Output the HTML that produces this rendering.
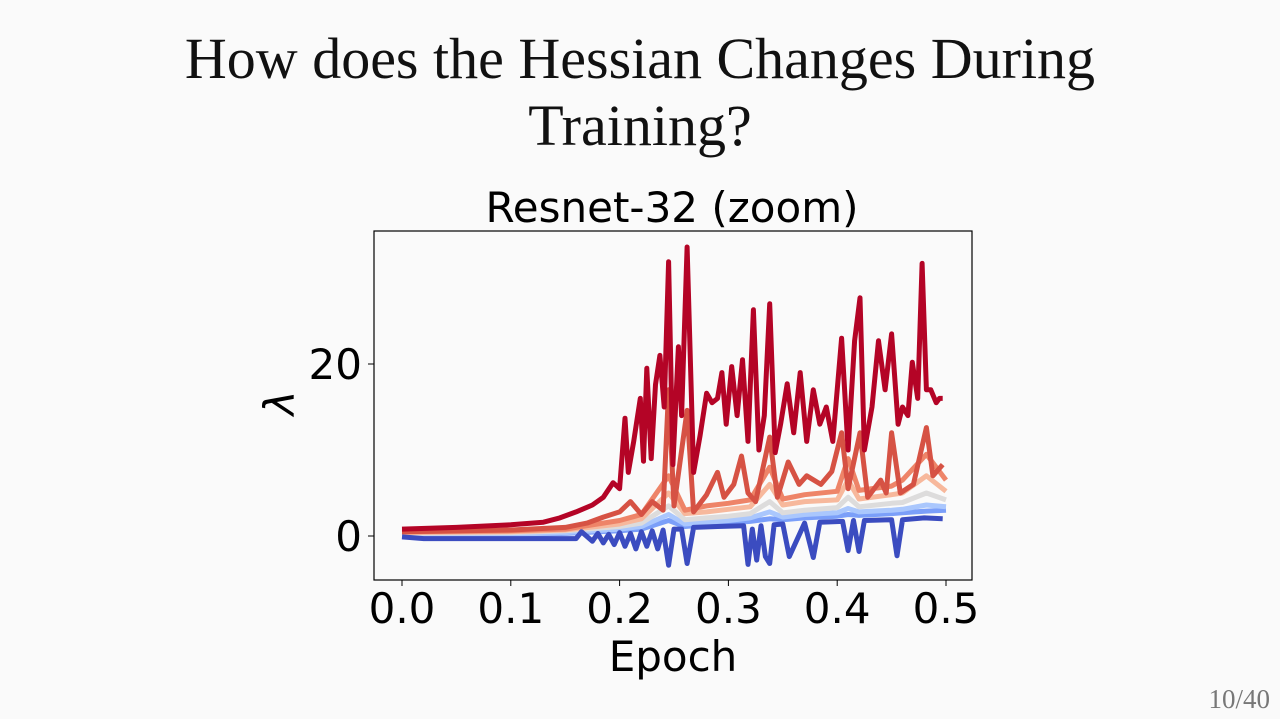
<!DOCTYPE html>
<html><head><meta charset="utf-8"><style>
body{margin:0;background:#fafafa;width:1280px;height:719px;overflow:hidden;position:relative;font-family:"Liberation Serif",serif}
.t{position:absolute;left:0;width:1280px;text-align:center;font-size:58px;color:#111;font-family:"Liberation Serif",serif}
</style></head><body>
<div class="t" style="top:25px;line-height:67px">How does the Hessian Changes During<br>Training?</div>
<div style="position:absolute;right:10px;top:684px;font-size:27px;color:#777">10/40</div>
<svg id="c" width="1280" height="719" style="position:absolute;left:0;top:0">
<text x="672" y="222" text-anchor="middle" font-family="DejaVu Sans,sans-serif" font-size="42">Resnet-32 (zoom)</text>
<text x="673" y="671" text-anchor="middle" font-family="DejaVu Sans,sans-serif" font-size="42">Epoch</text>
<text transform="translate(294,403) rotate(-90)" text-anchor="middle" font-family="DejaVu Sans,sans-serif" font-size="42" font-style="italic">λ</text>
<g id="marks"></g>
<rect x="374" y="231" width="598" height="349" fill="none" stroke="#000" stroke-width="1.2"/>
<g id="ticks"></g>
</svg>
<script>
const xTicks=[0,0.1,0.2,0.3,0.4,0.5];
const xTickLabels=["0.0","0.1","0.2","0.3","0.4","0.5"];
const yTicks=[0,20];
const yTickLabels=["0","20"];
const topX=[0,0.05,0.1,0.13,0.145,0.16,0.175,0.185,0.194,0.2,0.205,0.208,0.213,0.219,0.222,0.225,0.229,0.233,0.237,0.241,0.245,0.249,0.254,0.257,0.262,0.268,0.274,0.28,0.285,0.29,0.294,0.298,0.303,0.308,0.313,0.318,0.323,0.328,0.333,0.338,0.343,0.348,0.354,0.36,0.366,0.372,0.378,0.384,0.39,0.396,0.404,0.41,0.416,0.421,0.425,0.432,0.438,0.444,0.45,0.456,0.46,0.465,0.469,0.474,0.478,0.482,0.486,0.491,0.494,0.497];
const topY=[0.8,1.0,1.3,1.6,2.1,2.8,3.6,4.5,6.2,5.5,13.7,7.4,11,16,8.7,19.5,9,17.6,21,15,31.9,8.3,22,14,33.6,7.4,11.7,16.6,15.5,16,19,13,19.7,14,20.5,11,26.3,10,14,27,9.7,13,17.7,12,19,11,17,13,15,11,23,10,22.7,27.7,10,15,22.7,17,23.5,13,15,14,20.2,16,31.7,17,17,15.5,16,16];
const orX=[0,0.1,0.15,0.17,0.185,0.2,0.21,0.22,0.23,0.24,0.245,0.25,0.262,0.268,0.28,0.29,0.296,0.305,0.312,0.318,0.325,0.338,0.345,0.355,0.365,0.372,0.385,0.395,0.404,0.41,0.421,0.428,0.44,0.445,0.45,0.458,0.47,0.482,0.488,0.497];
const orY=[0.5,0.7,1.0,1.5,2.2,2.8,4,2.5,4,3,17,3.5,14.6,2.8,4.8,7.4,4.5,6,9.3,5,4,11.5,4.5,8.6,6,7,6,7.5,12,5.5,12,4.5,6.5,5,12,5,6,12.6,7,8.3];
const midX=[0,0.1,0.15,0.2,0.22,0.245,0.26,0.28,0.3,0.32,0.338,0.35,0.37,0.4,0.41,0.42,0.45,0.46,0.482,0.5];
const mid1=[0.5,0.6,0.8,1.8,2.5,7,3,3.5,3.8,4.2,8,4.3,4.8,5.2,9,5.3,5.8,6.5,9.5,6.5];
const mid2=[0.4,0.5,0.7,1.4,2,5,2.6,2.8,3.1,3.4,6,3.6,4,4.2,6.5,4.3,4.8,5,7,5.2];
const mid3=[0.3,0.4,0.6,1.1,1.5,3.5,1.9,2.1,2.3,2.6,4,2.7,3.0,3.3,4.5,3.4,3.8,3.9,5,4.2];
const mid4=[0.1,0.2,0.4,0.8,1.1,2.5,1.4,1.6,1.8,2.1,2.8,2.2,2.5,2.7,3.2,2.8,3.0,3.1,3.6,3.4];
const mid5=[0,0.1,0.3,0.6,0.8,1.8,1.1,1.3,1.5,1.7,2,1.9,2.1,2.3,2.5,2.4,2.6,2.7,2.9,3.0];
const botX=[0,0.02,0.1,0.16,0.165,0.175,0.18,0.185,0.19,0.195,0.2,0.205,0.21,0.215,0.22,0.225,0.23,0.235,0.24,0.245,0.25,0.257,0.262,0.268,0.29,0.314,0.318,0.322,0.326,0.33,0.334,0.338,0.342,0.35,0.356,0.37,0.378,0.384,0.405,0.41,0.415,0.42,0.425,0.45,0.455,0.46,0.48,0.497];
const botY=[-0.1,-0.3,-0.3,-0.3,0.5,-0.6,0.3,-0.8,0.2,-1,0.4,-1.2,0.3,-1.5,0.5,-1.2,0.6,-1.5,0.7,-3.4,0.8,0.8,-3.2,1,1.1,1.2,-3.3,0.8,-2.8,1.2,-2.4,-3.2,1.3,1.4,-2.4,1.5,-2.5,1.6,1.7,-1.7,1.8,-1.8,1.8,1.9,-2.3,1.9,2.1,2.0];
function sx(v){return 402+v*1088;}
function sy(v){return 536-v*8.6;}
const NS='http://www.w3.org/2000/svg';
const marks=document.getElementById('marks');
function line(xs,ys,col,w,name){
  const p=document.createElementNS(NS,'path');
  p.setAttribute('d',xs.map((x,i)=>(i?'L':'M')+sx(x).toFixed(1)+','+sy(ys[i]).toFixed(1)).join(''));
  p.setAttribute('fill','none');p.setAttribute('stroke',col);p.setAttribute('stroke-width',w);p.setAttribute('stroke-linejoin','round');
  
  
  marks.appendChild(p);
}
line(midX,mid5,'#7b9ff9',5,'series-blue-3');
line(midX,mid4,'#aac7fd',5,'series-blue-2');
line(midX,mid3,'#dddcdc',5,'series-grey');
line(midX,mid2,'#f7b89c',5,'series-salmon');
line(midX,mid1,'#ee8468',5,'series-light-red');
line(orX,orY,'#d65244',5,'series-orange-red');
line(botX,botY,'#3b4cc0',5,'series-dark-blue');
line(topX,topY,'#b40426',5,'series-dark-red');
const tk=document.getElementById('ticks');
xTicks.forEach((v,i)=>{
  const l=document.createElementNS(NS,'line');
  l.setAttribute('x1',sx(v));l.setAttribute('x2',sx(v));l.setAttribute('y1',580);l.setAttribute('y2',586);l.setAttribute('stroke','#000');
  
  
  tk.appendChild(l);
  const t=document.createElementNS(NS,'text');
  t.setAttribute('x',sx(v));t.setAttribute('y',623);t.setAttribute('text-anchor','middle');t.setAttribute('font-family','DejaVu Sans,sans-serif');t.setAttribute('font-size','42');
  t.textContent=xTickLabels[i];
  
  
  tk.appendChild(t);
});
yTicks.forEach((v,i)=>{
  const l=document.createElementNS(NS,'line');
  l.setAttribute('x1',368);l.setAttribute('x2',374);l.setAttribute('y1',sy(v));l.setAttribute('y2',sy(v));l.setAttribute('stroke','#000');
  
  
  tk.appendChild(l);
  const t=document.createElementNS(NS,'text');
  t.setAttribute('x',362);t.setAttribute('y',sy(v)+15);t.setAttribute('text-anchor','end');t.setAttribute('font-family','DejaVu Sans,sans-serif');t.setAttribute('font-size','42');
  t.textContent=yTickLabels[i];
  
  
  tk.appendChild(t);
});
</script>
</body></html>
